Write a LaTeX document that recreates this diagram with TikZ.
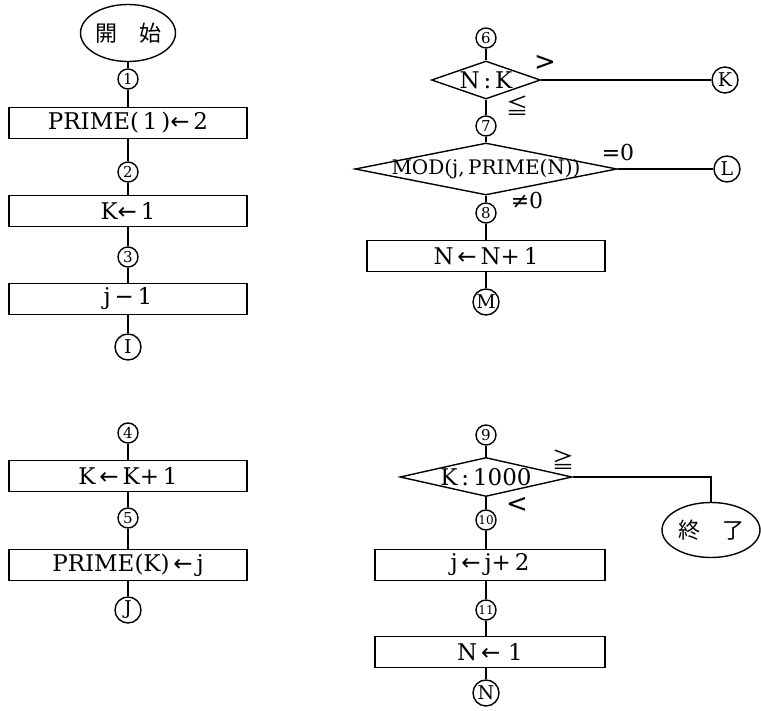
\documentclass[tikz,border=0pt]{standalone}
\usepackage{fontspec}
\setmainfont{DejaVu Serif}
\newfontfamily\cjk{Noto Sans CJK JP}
\newfontfamily\symf{DejaVu Sans}
\newcommand{\larr}{{\symf ←}}
\usetikzlibrary{shapes.geometric}
\begin{document}
\begin{tikzpicture}[x=1pt,y=-1pt,
  line width=1.4pt,
  proc/.style={draw, rectangle, minimum height=31pt, inner sep=0pt, font=\fontsize{23}{24}\selectfont},
  num/.style={draw, circle, minimum size=20pt, inner sep=0pt, font=\fontsize{15}{16}\selectfont},
  lconn/.style={draw, circle, minimum size=26pt, inner sep=0pt, font=\fontsize{19}{20}\selectfont},
  term/.style={draw, ellipse, inner sep=0pt, font=\cjk\fontsize{22}{23}\selectfont},
  dec/.style={draw, diamond, inner sep=0pt},
  lbl/.style={inner sep=0pt, font=\fontsize{22}{24}\selectfont}
]
\useasboundingbox (0,0) rectangle (761,711);
% ---- left top
\node[term, minimum width=95pt, minimum height=57pt] (start) at (128,33) {開\hspace{1em}始};
\node[num] (c1) at (128,79) {1};
\node[proc, minimum width=238pt] (p1) at (128,123) {PRIME(\,1\,)\larr\,2};
\node[num] (c2) at (128,172) {2};
\node[proc, minimum width=238pt] (p2) at (128,211) {K\larr\,1};
\node[num] (c3) at (128,257) {3};
\node[proc, minimum width=238pt] (p3) at (128,299) {j\,{\symf −}\,1};
\node[lconn] (cI) at (128,347) {I};
\draw (start) -- (c1) -- (p1) -- (c2) -- (p2) -- (c3) -- (p3) -- (cI);
% ---- left bottom
\node[num] (c4) at (128,433) {4};
\node[proc, minimum width=238pt] (p4) at (128,476) {K\,\larr\,K+\,1};
\node[num] (c5) at (128,518) {5};
\node[proc, minimum width=238pt] (p5) at (128,565) {PRIME(K)\,\larr\,j};
\node[lconn] (cJ) at (128,610) {J};
\draw (c4) -- (p4) -- (c5) -- (p5) -- (cJ);
% ---- right top
\node[num] (c6) at (486,38) {6};
\node[dec, minimum width=109pt, minimum height=38pt] (d1) at (486,80)
  {\makebox[0pt]{\fontsize{23}{24}\selectfont N\,:\,K}};
\node[lconn] (cK) at (725,80) {K};
\node[num] (c7) at (486,126) {7};
\node[dec, minimum width=262pt, minimum height=52pt] (d2) at (486,169)
  {\makebox[0pt]{\fontsize{20}{22}\selectfont MOD(j,\,PRIME(N))}};
\node[lconn] (cL) at (727,169) {L};
\node[num] (c8) at (486,213) {8};
\node[proc, minimum width=238pt] (p6) at (486,256) {N\,\larr\,N+\,1};
\node[lconn] (cM) at (486,302) {M};
\draw (c6) -- (d1) -- (c7) -- (d2) -- (c8) -- (p6) -- (cM);
\draw (d1.east) -- (cK);
\draw (d2.east) -- (cL);
\node[lbl, font=\symf\fontsize{26}{26}\selectfont] (gt1) at (545,63) {>};
\node[lbl, font=\cjk\fontsize{22}{22}\selectfont] (le1) at (517,106) {≦};
\node[lbl] (eq0) at (618,152) {{\symf =}0};
\node[lbl] (ne0) at (527,200) {{\symf ≠}0};
% ---- right bottom
\node[num] (c9) at (486,435) {9};
\node[dec, minimum width=172pt, minimum height=39pt] (d3) at (486,477)
  {\makebox[0pt]{\fontsize{23}{24}\selectfont K\,:\,1000}};
\node[term, minimum width=98pt, minimum height=55pt] (end) at (711,530) {終\hspace{1em}了};
\node[num, font=\fontsize{12}{13}\selectfont] (c10) at (486,520) {10};
\node[proc, minimum width=230pt] (p7) at (490,565) {j\,\larr\,j+\,2};
\node[num, font=\fontsize{12}{13}\selectfont] (c11) at (486,610) {11};
\node[proc, minimum width=230pt] (p8) at (490,652) {N\,\larr\,\,1};
\node[lconn] (cN) at (486,693) {N};
\draw (c9) -- (d3) -- (c10) -- (c10 |- p7.north);
\draw (c10 |- p7.south) -- (c11) -- (c11 |- p8.north);
\draw (c11 |- p8.south) -- (cN);
\draw (d3.east) -| (end.north);
\node[lbl, font=\cjk\fontsize{22}{22}\selectfont] (ge1) at (563,460) {≧};
\node[lbl, font=\symf\fontsize{26}{26}\selectfont] (lt1) at (517,505) {<};
\end{tikzpicture}
\end{document}
